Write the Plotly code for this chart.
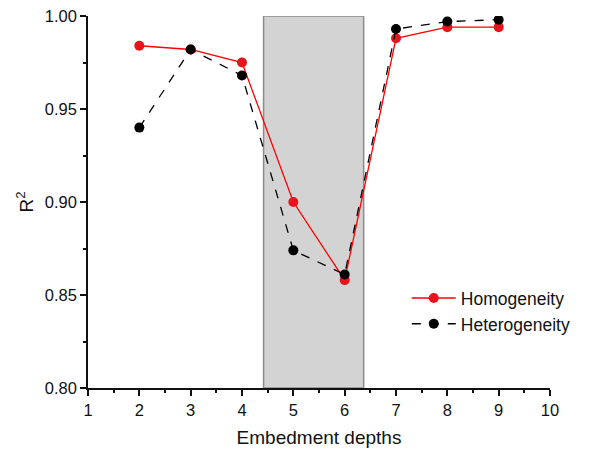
import plotly.graph_objects as go

depths = [2, 3, 4, 5, 6, 7, 8, 9]
homogeneity = [0.984, 0.982, 0.975, 0.900, 0.858, 0.988, 0.994, 0.994]
heterogeneity = [0.940, 0.982, 0.968, 0.874, 0.861, 0.993, 0.997, 0.998]
shade_x = [4.42, 6.37]

font_family = "Arial, Liberation Sans, sans-serif"

fig = go.Figure()
fig.add_shape(type="rect", xref="x", yref="y", x0=shade_x[0], x1=shade_x[1], y0=0.80, y1=1.00,
              fillcolor="#d3d3d3", line=dict(color="#8c8c8c", width=1.5), layer="below")
fig.add_trace(go.Scatter(x=depths, y=homogeneity, mode="lines+markers", name="Homogeneity",
                         line=dict(color="#ff0000", width=1.3),
                         marker=dict(color="#e8141c", size=10)))
fig.add_trace(go.Scatter(x=depths, y=heterogeneity, mode="lines+markers", name="Heterogeneity",
                         line=dict(color="#000000", width=1.3, dash="dash"),
                         marker=dict(color="#000000", size=10)))

fig.update_layout(
    width=589, height=451,
    margin=dict(l=88, r=39, t=16, b=63),
    paper_bgcolor="white", plot_bgcolor="white",
    font=dict(family=font_family, size=16.5, color="#111"),
    legend=dict(x=0.69, y=0.29, xanchor="left", yanchor="top", bgcolor="rgba(0,0,0,0)",
                font=dict(size=17.5), tracegroupgap=0, itemwidth=44),
    xaxis=dict(range=[1, 10], tickvals=list(range(1, 11)), showgrid=False, zeroline=False,
               showline=True, linecolor="#111", linewidth=1.5, ticks="outside", ticklen=6,
               tickwidth=1.5, tickcolor="#111", automargin=False,
               minor=dict(ticks="outside", ticklen=3, tickcolor="#111", tickwidth=1.5, dtick=0.5),
               title=dict(text="Embedment depths", font=dict(size=19), standoff=13)),
    yaxis=dict(range=[0.80, 1.00], tickvals=[0.80, 0.85, 0.90, 0.95, 1.00], tickformat=".2f",
               showgrid=False, zeroline=False, showline=True, linecolor="#111", linewidth=1.5,
               ticks="outside", ticklen=6, tickwidth=1.5, tickcolor="#111", automargin=False,
               minor=dict(ticks="outside", ticklen=3, tickcolor="#111", tickwidth=1.5, dtick=0.025),
               title=dict(text="R<sup>2</sup>", font=dict(size=19), standoff=6)),
)

fig.write_html("out.html")
